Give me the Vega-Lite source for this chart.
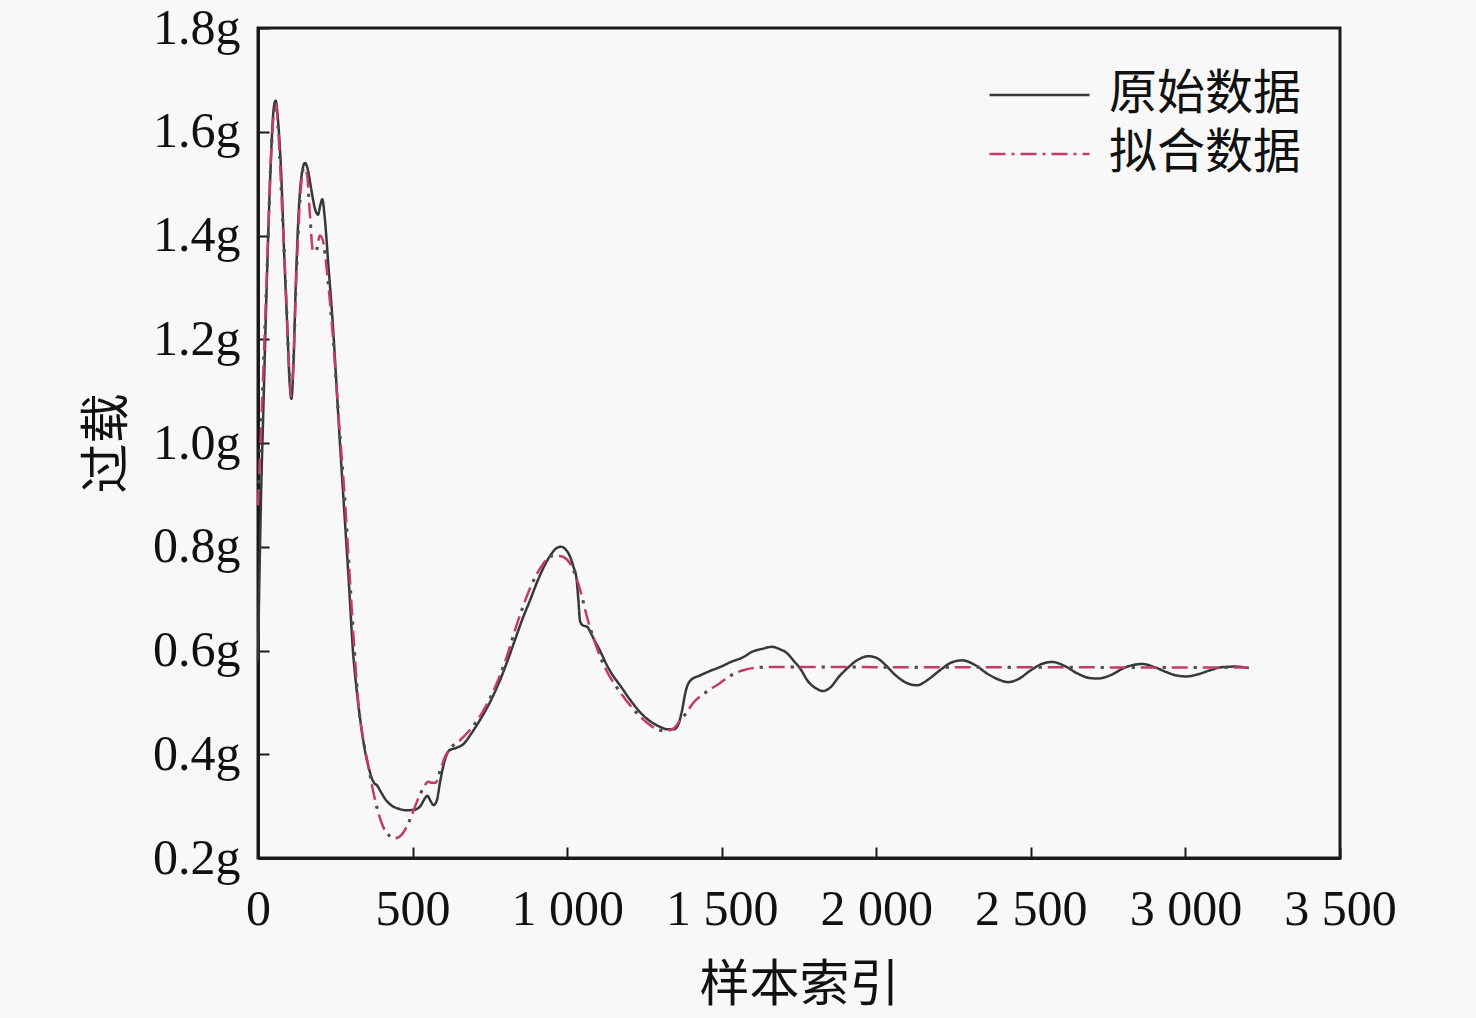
{
  "$schema": "https://vega.github.io/schema/vega-lite/v6.json",
  "width": 1082,
  "height": 830,
  "autosize": {"type": "none"},
  "padding": {"left": 258, "top": 28, "right": 136, "bottom": 160},
  "background": "#f8f8f8",
  "config": {
    "view": {"stroke": "#1a1a1a", "strokeWidth": 3},
    "axis": {
      "domainColor": "#1a1a1a",
      "domainWidth": 3,
      "tickColor": "#1a1a1a",
      "tickWidth": 2,
      "tickSize": -11,
      "grid": false,
      "labelFont": "Liberation Serif",
      "labelFontSize": 50,
      "labelColor": "#111111",
      "labelFlush": false,
      "labelOverlap": false,
      "labelBound": false,
      "titleFont": "Noto Sans CJK SC",
      "titleFontSize": 50,
      "titleFontWeight": "normal",
      "titleColor": "#111111"
    },
    "legend": {
      "orient": "none",
      "legendX": 730,
      "legendY": 43,
      "padding": 0,
      "title": null,
      "symbolType": "stroke",
      "symbolSize": 10000,
      "symbolStrokeWidth": 2.5,
      "clipHeight": 48,
      "labelFont": "Noto Sans CJK SC",
      "labelFontSize": 48,
      "labelLimit": 0,
      "labelColor": "#111111",
      "labelOffset": 18,
      "rowPadding": 11
    }
  },
  "datasets": {
    "raw": [
      {"idx": 0, "g": 0.58}, {"idx": 4, "g": 0.72}, {"idx": 10, "g": 0.9}, {"idx": 18, "g": 1.08},
      {"idx": 28, "g": 1.3}, {"idx": 40, "g": 1.52}, {"idx": 50, "g": 1.64}, {"idx": 57, "g": 1.66},
      {"idx": 65, "g": 1.62}, {"idx": 75, "g": 1.52}, {"idx": 85, "g": 1.36}, {"idx": 95, "g": 1.22},
      {"idx": 103, "g": 1.11}, {"idx": 108, "g": 1.085}, {"idx": 114, "g": 1.14}, {"idx": 122, "g": 1.3},
      {"idx": 132, "g": 1.45}, {"idx": 142, "g": 1.52}, {"idx": 152, "g": 1.54}, {"idx": 160, "g": 1.53},
      {"idx": 172, "g": 1.49}, {"idx": 185, "g": 1.45}, {"idx": 194, "g": 1.44}, {"idx": 202, "g": 1.46},
      {"idx": 208, "g": 1.47}, {"idx": 215, "g": 1.44}, {"idx": 228, "g": 1.34}, {"idx": 243, "g": 1.22},
      {"idx": 255, "g": 1.1}, {"idx": 265, "g": 1.0}, {"idx": 280, "g": 0.86}, {"idx": 295, "g": 0.72},
      {"idx": 307, "g": 0.6}, {"idx": 318, "g": 0.53}, {"idx": 330, "g": 0.47}, {"idx": 345, "g": 0.41},
      {"idx": 360, "g": 0.37}, {"idx": 375, "g": 0.345}, {"idx": 385, "g": 0.34}, {"idx": 395, "g": 0.33},
      {"idx": 410, "g": 0.315}, {"idx": 430, "g": 0.302}, {"idx": 455, "g": 0.295}, {"idx": 480, "g": 0.292},
      {"idx": 505, "g": 0.293}, {"idx": 525, "g": 0.3}, {"idx": 540, "g": 0.315}, {"idx": 548, "g": 0.32},
      {"idx": 558, "g": 0.31}, {"idx": 568, "g": 0.302}, {"idx": 578, "g": 0.31}, {"idx": 590, "g": 0.35},
      {"idx": 605, "g": 0.39}, {"idx": 620, "g": 0.408}, {"idx": 640, "g": 0.412}, {"idx": 665, "g": 0.42},
      {"idx": 690, "g": 0.44}, {"idx": 718, "g": 0.466}, {"idx": 750, "g": 0.5}, {"idx": 783, "g": 0.543},
      {"idx": 810, "g": 0.585}, {"idx": 831, "g": 0.62}, {"idx": 855, "g": 0.66}, {"idx": 880, "g": 0.697},
      {"idx": 905, "g": 0.735}, {"idx": 928, "g": 0.765}, {"idx": 950, "g": 0.787}, {"idx": 965, "g": 0.797},
      {"idx": 980, "g": 0.8}, {"idx": 995, "g": 0.795}, {"idx": 1010, "g": 0.78}, {"idx": 1020, "g": 0.762},
      {"idx": 1030, "g": 0.74}, {"idx": 1036, "g": 0.7}, {"idx": 1042, "g": 0.656}, {"idx": 1052, "g": 0.648},
      {"idx": 1064, "g": 0.646}, {"idx": 1078, "g": 0.632}, {"idx": 1090, "g": 0.618}, {"idx": 1106, "g": 0.6},
      {"idx": 1130, "g": 0.57}, {"idx": 1150, "g": 0.55}, {"idx": 1171, "g": 0.533}, {"idx": 1200, "g": 0.508},
      {"idx": 1236, "g": 0.481}, {"idx": 1270, "g": 0.463}, {"idx": 1300, "g": 0.453}, {"idx": 1325, "g": 0.448},
      {"idx": 1345, "g": 0.448}, {"idx": 1358, "g": 0.455}, {"idx": 1370, "g": 0.48}, {"idx": 1385, "g": 0.525},
      {"idx": 1400, "g": 0.543}, {"idx": 1430, "g": 0.552}, {"idx": 1460, "g": 0.56}, {"idx": 1494, "g": 0.568},
      {"idx": 1530, "g": 0.578}, {"idx": 1569, "g": 0.587}, {"idx": 1600, "g": 0.598}, {"idx": 1630, "g": 0.603},
      {"idx": 1662, "g": 0.607}, {"idx": 1690, "g": 0.602}, {"idx": 1711, "g": 0.595}, {"idx": 1733, "g": 0.58},
      {"idx": 1753, "g": 0.566}, {"idx": 1780, "g": 0.54}, {"idx": 1805, "g": 0.527}, {"idx": 1828, "g": 0.522},
      {"idx": 1850, "g": 0.528}, {"idx": 1880, "g": 0.55}, {"idx": 1905, "g": 0.565}, {"idx": 1940, "g": 0.582},
      {"idx": 1974, "g": 0.589}, {"idx": 2000, "g": 0.586}, {"idx": 2030, "g": 0.572}, {"idx": 2054, "g": 0.557},
      {"idx": 2090, "g": 0.54}, {"idx": 2131, "g": 0.533}, {"idx": 2170, "g": 0.545}, {"idx": 2206, "g": 0.562},
      {"idx": 2240, "g": 0.576}, {"idx": 2277, "g": 0.581}, {"idx": 2320, "g": 0.572}, {"idx": 2360, "g": 0.555},
      {"idx": 2400, "g": 0.543}, {"idx": 2426, "g": 0.539}, {"idx": 2460, "g": 0.545}, {"idx": 2500, "g": 0.562},
      {"idx": 2535, "g": 0.574}, {"idx": 2569, "g": 0.578}, {"idx": 2610, "g": 0.57}, {"idx": 2650, "g": 0.556},
      {"idx": 2690, "g": 0.547}, {"idx": 2717, "g": 0.546}, {"idx": 2760, "g": 0.553}, {"idx": 2800, "g": 0.566},
      {"idx": 2830, "g": 0.572}, {"idx": 2860, "g": 0.574}, {"idx": 2900, "g": 0.568}, {"idx": 2940, "g": 0.558},
      {"idx": 2970, "g": 0.552}, {"idx": 3002, "g": 0.55}, {"idx": 3040, "g": 0.554}, {"idx": 3080, "g": 0.562},
      {"idx": 3120, "g": 0.568}, {"idx": 3160, "g": 0.569}, {"idx": 3205, "g": 0.566}
    ],
    "fit": [
      {"idx": 0, "g": 0.88}, {"idx": 8, "g": 1.0}, {"idx": 18, "g": 1.15}, {"idx": 30, "g": 1.35},
      {"idx": 42, "g": 1.55}, {"idx": 52, "g": 1.64}, {"idx": 58, "g": 1.655}, {"idx": 66, "g": 1.6},
      {"idx": 78, "g": 1.45}, {"idx": 90, "g": 1.3}, {"idx": 100, "g": 1.15}, {"idx": 107, "g": 1.09},
      {"idx": 114, "g": 1.15}, {"idx": 124, "g": 1.32}, {"idx": 136, "g": 1.47}, {"idx": 148, "g": 1.53},
      {"idx": 158, "g": 1.52}, {"idx": 168, "g": 1.44}, {"idx": 178, "g": 1.37}, {"idx": 188, "g": 1.37},
      {"idx": 200, "g": 1.4}, {"idx": 210, "g": 1.39}, {"idx": 225, "g": 1.32}, {"idx": 243, "g": 1.2},
      {"idx": 262, "g": 1.04}, {"idx": 280, "g": 0.9}, {"idx": 297, "g": 0.74}, {"idx": 312, "g": 0.6},
      {"idx": 326, "g": 0.49}, {"idx": 340, "g": 0.43}, {"idx": 356, "g": 0.38}, {"idx": 372, "g": 0.33},
      {"idx": 388, "g": 0.29}, {"idx": 405, "g": 0.26}, {"idx": 425, "g": 0.243}, {"idx": 445, "g": 0.238},
      {"idx": 465, "g": 0.245}, {"idx": 490, "g": 0.272}, {"idx": 515, "g": 0.31}, {"idx": 535, "g": 0.335},
      {"idx": 550, "g": 0.347}, {"idx": 562, "g": 0.345}, {"idx": 575, "g": 0.345}, {"idx": 590, "g": 0.37},
      {"idx": 605, "g": 0.395}, {"idx": 620, "g": 0.41}, {"idx": 650, "g": 0.425}, {"idx": 690, "g": 0.45},
      {"idx": 720, "g": 0.475}, {"idx": 760, "g": 0.52}, {"idx": 800, "g": 0.58}, {"idx": 840, "g": 0.655},
      {"idx": 880, "g": 0.72}, {"idx": 920, "g": 0.765}, {"idx": 950, "g": 0.782}, {"idx": 975, "g": 0.782},
      {"idx": 1000, "g": 0.775}, {"idx": 1020, "g": 0.755}, {"idx": 1042, "g": 0.717}, {"idx": 1064, "g": 0.665},
      {"idx": 1090, "g": 0.615}, {"idx": 1120, "g": 0.57}, {"idx": 1171, "g": 0.52}, {"idx": 1210, "g": 0.49},
      {"idx": 1250, "g": 0.465}, {"idx": 1285, "g": 0.45}, {"idx": 1317, "g": 0.445}, {"idx": 1345, "g": 0.45},
      {"idx": 1365, "g": 0.465}, {"idx": 1381, "g": 0.476}, {"idx": 1408, "g": 0.499}, {"idx": 1450, "g": 0.52},
      {"idx": 1494, "g": 0.537}, {"idx": 1530, "g": 0.552}, {"idx": 1569, "g": 0.562}, {"idx": 1600, "g": 0.566},
      {"idx": 1640, "g": 0.568}, {"idx": 1700, "g": 0.568}, {"idx": 3205, "g": 0.567}
    ]
  },
  "encoding": {
    "x": {
      "field": "idx",
      "type": "quantitative",
      "scale": {"domain": [0, 3500], "nice": false},
      "axis": {
        "values": [0, 500, 1000, 1500, 2000, 2500, 3000, 3500],
        "labelExpr": "replace(format(datum.value, ','), ',', ' ')",
        "labelPadding": 37,
        "title": "样本索引",
        "titlePadding": 26
      }
    },
    "y": {
      "field": "g",
      "type": "quantitative",
      "scale": {"domain": [0.2, 1.8], "nice": false, "zero": false},
      "axis": {
        "values": [0.2, 0.4, 0.6, 0.8, 1.0, 1.2, 1.4, 1.6, 1.8],
        "labelExpr": "format(datum.value, '.1f') + 'g'",
        "labelPadding": 29,
        "title": "过载",
        "titlePadding": 20
      }
    }
  },
  "layer": [
    {
      "data": {"name": "raw"},
      "transform": [{"calculate": "'原始数据'", "as": "series"}],
      "mark": {"type": "line", "strokeWidth": 2.5, "interpolate": "monotone"},
      "encoding": {
        "color": {
          "field": "series",
          "type": "nominal",
          "scale": {"domain": ["原始数据", "拟合数据"], "range": ["#383838", "#c43c64"]}
        },
        "strokeDash": {
          "field": "series",
          "type": "nominal",
          "scale": {"domain": ["原始数据", "拟合数据"], "range": [[1, 0], [16, 6, 3, 6]]}
        }
      }
    },
    {
      "data": {"name": "fit"},
      "transform": [{"calculate": "'拟合数据'", "as": "series"}],
      "mark": {"type": "line", "strokeWidth": 2.5, "interpolate": "monotone"},
      "encoding": {
        "color": {"field": "series", "type": "nominal"},
        "strokeDash": {"field": "series", "type": "nominal"}
      }
    },
    {
      "data": {"name": "fit"},
      "mark": {"type": "line", "strokeWidth": 3, "interpolate": "monotone", "color": "#505050", "strokeDash": [0, 22, 3, 6]},
      "encoding": {}
    }
  ]
}
